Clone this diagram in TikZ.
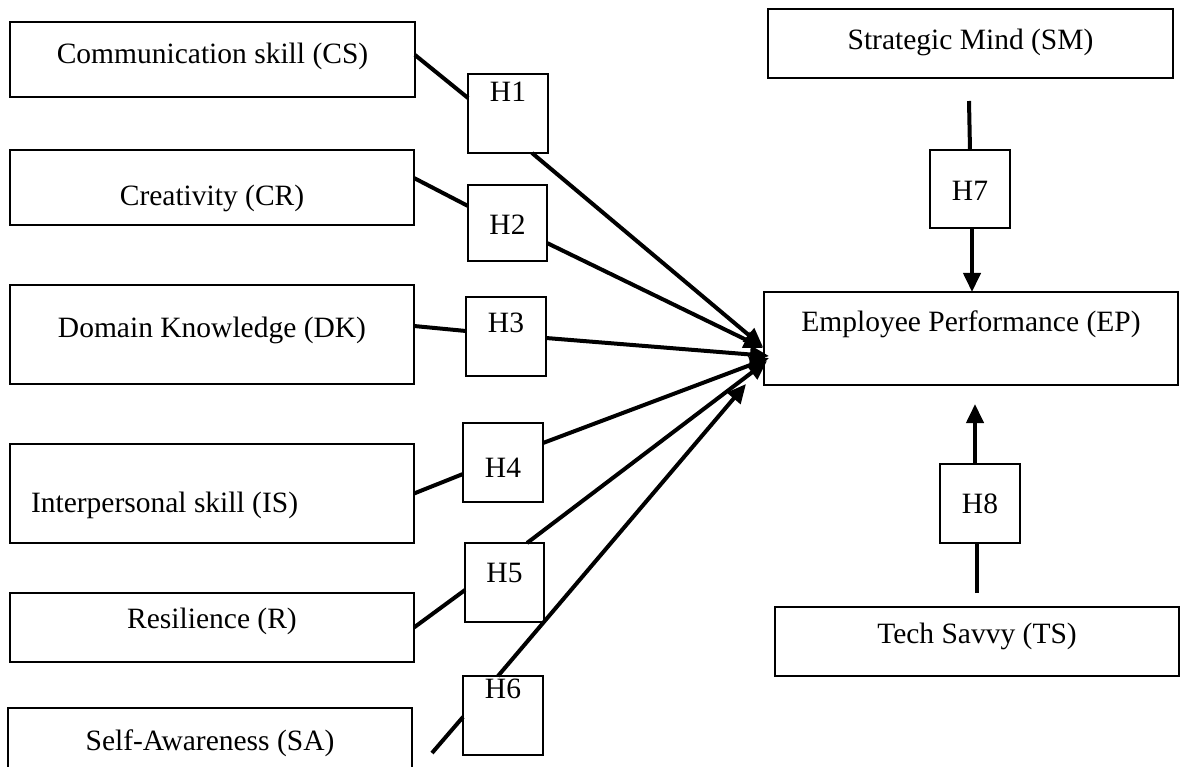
\documentclass[tikz,border=0pt]{standalone}
\usepackage{fontspec}
\setmainfont{Liberation Serif}
\usetikzlibrary{arrows.meta}
\begin{document}
\begin{tikzpicture}[x=1pt,y=-1pt,
  box/.style={draw, line width=2.6pt, inner sep=0pt, outer sep=0pt},
  hbox/.style={draw, line width=1.5pt, inner sep=0pt, outer sep=0pt, minimum width=80pt, minimum height=79pt},
  lbl/.style={font=\fontsize{29.5}{34}\selectfont, anchor=base, inner sep=0pt, outer sep=0pt},
  conn/.style={line width=4pt},
  arr/.style={conn, -{Triangle[length=19pt,width=17pt]}}]
\useasboundingbox (0,0) rectangle (1180,767);

% left construct boxes
\node[box, minimum width=405pt, minimum height=75pt] (cs) at (212.5,59.5) {};
\node[lbl] (cs-t) at (212.5,64) {Communication skill (CS)};
\node[box, minimum width=404pt, minimum height=75pt] (cr) at (212,187.5) {};
\node[lbl] (cr-t) at (212,206) {Creativity (CR)};
\node[box, minimum width=404pt, minimum height=99pt] (dk) at (212,334.5) {};
\node[lbl] (dk-t) at (212,337) {Domain Knowledge (DK)};
\node[box, minimum width=404pt, minimum height=99pt] (is) at (212,493.5) {};
\node[lbl, anchor=base west] (is-t) at (31,512) {Interpersonal skill (IS)};
\node[box, minimum width=404pt, minimum height=69pt] (r) at (212,627.5) {};
\node[lbl] (r-t) at (212,628) {Resilience (R)};
\node[box, minimum width=404pt, minimum height=62pt] (sa) at (210,739) {};
\node[lbl] (sa-t) at (210,750) {Self-Awareness (SA)};

% right construct boxes
\node[box, minimum width=405pt, minimum height=69pt] (sm) at (970.5,43.5) {};
\node[lbl] (sm-t) at (970.5,50) {Strategic Mind (SM)};
\node[box, minimum width=414pt, minimum height=93pt] (ep) at (971,338.5) {};
\node[lbl] (ep-t) at (971,331) {Employee Performance (EP)};
\node[box, minimum width=404pt, minimum height=69pt] (ts) at (977,641.5) {};
\node[lbl] (ts-t) at (977,643) {Tech Savvy (TS)};

% hypothesis boxes
\node[hbox] (h1) at (508,113.5) {};
\node[lbl] (h1-t) at (508,102) {H1};
\node[hbox, minimum width=79pt, minimum height=76pt] (h2) at (507.5,223) {};
\node[lbl] (h2-t) at (507.5,235) {H2};
\node[hbox] (h3) at (506,336.5) {};
\node[lbl] (h3-t) at (506,332) {H3};
\node[hbox] (h4) at (503,462.5) {};
\node[lbl] (h4-t) at (503,477) {H4};
\node[hbox, minimum width=79pt] (h5) at (504.5,582.5) {};
\node[lbl] (h5-t) at (504.5,582) {H5};
\node[hbox] (h6) at (503,715.5) {};
\node[lbl] (h6-t) at (503,698) {H6};
\node[hbox, minimum height=78pt] (h7) at (970,189) {};
\node[lbl] (h7-t) at (970,201) {H7};
\node[hbox] (h8) at (980,503.5) {};
\node[lbl] (h8-t) at (980,513) {H8};

% arrow tips and free ends
\coordinate (t1) at (763,347);
\coordinate (t2) at (763,348);
\coordinate (t3) at (769,356);
\coordinate (t4) at (769,358);
\coordinate (t5) at (767,361);
\coordinate (t6) at (746,384);
\coordinate (t8) at (975,404);
\coordinate (sa-s) at (432,753);
\coordinate (sm-s) at (969,101);
\coordinate (ts-s) at (977,593);

% connectors
\draw[conn] ([yshift=4.5pt]cs.east) -- ([yshift=15.5pt]h1.west);
\draw[arr] ([xshift=24pt]h1.south) -- (t1);
\draw[conn] ([yshift=9.5pt]cr.east) -- ([yshift=17pt]h2.west);
\draw[arr] ([yshift=-20pt]h2.east) -- (t2);
\draw[conn] ([yshift=8.5pt]dk.east) -- ([yshift=5.5pt]h3.west);
\draw[arr] ([yshift=-1.5pt]h3.east) -- (t3);
\draw[conn] (is.east) -- ([yshift=-11.5pt]h4.west);
\draw[arr] ([yshift=19.5pt]h4.east) -- (t4);
\draw[conn] (r.east) -- ([yshift=-7.5pt]h5.west);
\draw[arr] ([xshift=22.5pt]h5.north) -- (t5);
\draw[conn] (sa-s) -- ([yshift=-1.5pt]h6.west);
\draw[arr] ([xshift=-5pt]h6.north) -- (t6);
\draw[conn] (sm-s) -- (h7.north);
\draw[arr] ([xshift=2pt]h7.south) -- ([xshift=1pt]ep.north);
\draw[conn] (ts-s) -- ([xshift=-3pt]h8.south);
\draw[arr] ([xshift=-5pt]h8.north) -- (t8);
\end{tikzpicture}
\end{document}
